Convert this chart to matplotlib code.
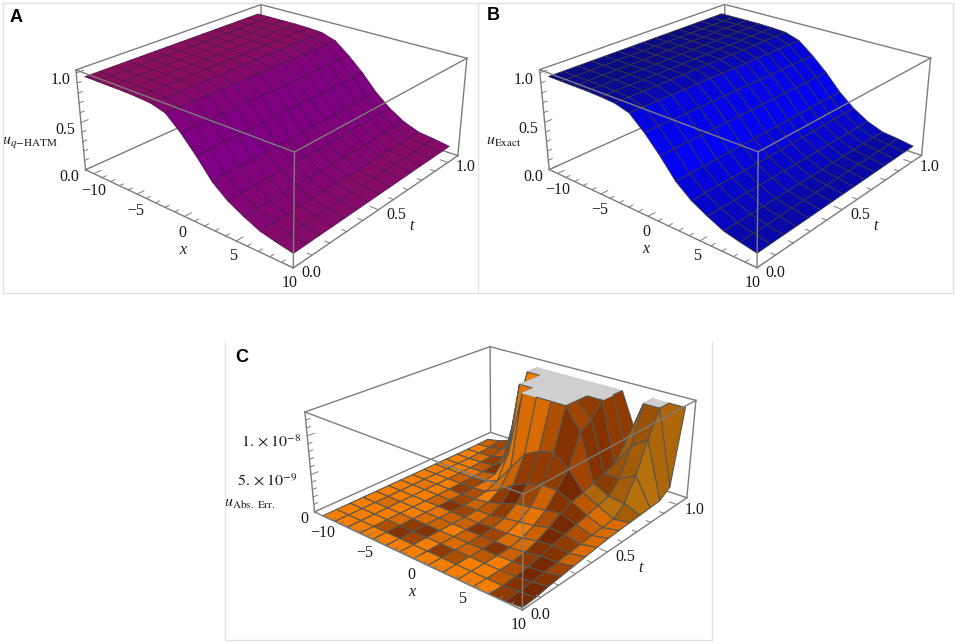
import numpy as np
import matplotlib
matplotlib.use("Agg")
import matplotlib.pyplot as plt
from matplotlib.colors import to_rgb
from matplotlib.lines import Line2D
from mpl_toolkits.mplot3d import proj3d

plt.rcParams["font.family"] = ["Liberation Serif", "DejaVu Serif"]
plt.rcParams["mathtext.fontset"] = "stix"

W, H = 957, 644
AX_PX = 476.56  # the square that mplot3d fits the box into

x_nodes = [-10, -8.57, -7.14, -5.71, -4.29, -2.86, -1.43, 0, 1.43, 2.86, 4.29, 5.71, 7.14, 8.57, 10]
t_nodes = [0, .071, .143, .214, .286, .357, .429, .5, .571, .643, .714, .786, .857, .929, 1]

# rows are t_nodes, columns are x_nodes
u_exact = [
    [.995, .995, .995, .995, .99, .98, .94, .81, .65, .47, .35, .27, .2, .165, .136],
    [.995, .995, .995, .995, .99, .98, .939, .81, .651, .472, .352, .271, .201, .167, .139],
    [.995, .995, .995, .995, .99, .98, .939, .81, .653, .475, .354, .271, .203, .17, .142],
    [.995, .995, .995, .995, .99, .98, .938, .81, .654, .477, .355, .272, .204, .172, .144],
    [.995, .995, .995, .995, .99, .98, .937, .81, .656, .48, .357, .273, .206, .175, .147],
    [.995, .995, .995, .995, .99, .98, .936, .81, .657, .482, .359, .274, .207, .178, .15],
    [.995, .995, .995, .995, .99, .98, .936, .81, .659, .485, .361, .274, .209, .18, .153],
    [.995, .995, .995, .995, .99, .98, .935, .81, .66, .488, .363, .275, .21, .183, .156],
    [.995, .995, .995, .995, .99, .98, .934, .81, .661, .49, .364, .276, .211, .185, .158],
    [.995, .995, .995, .995, .99, .98, .934, .81, .663, .492, .366, .276, .213, .188, .161],
    [.995, .995, .995, .995, .99, .98, .933, .81, .664, .495, .368, .277, .214, .19, .164],
    [.995, .995, .995, .995, .99, .98, .932, .81, .666, .497, .37, .278, .216, .193, .167],
    [.995, .995, .995, .995, .99, .98, .931, .81, .667, .5, .371, .279, .217, .195, .169],
    [.995, .995, .995, .995, .99, .98, .931, .81, .669, .502, .373, .279, .219, .198, .172],
    [.995, .995, .995, .995, .99, .98, .93, .81, .67, .505, .375, .28, .22, .2, .175],
]
u_hatm = u_exact  # the two surfaces cannot be told apart in the picture

# absolute error in units of 1e-9, clipped at the top of the box in the original
u_err = [
    [0, 0, 0, 0, 0, 0, 0, 0, 0, 0, 0, 0, 0, .1, .3],
    [0, 0, 0, 0, 0, 0, 0, 0, 0, 0, 0, 0, 0, .2, .4],
    [0, 0, 0, 0, 0, 0, 0, 0, 0, 0, 0, 0, .1, .3, .7],
    [0, 0, 0, 0, 0, 0, 0, 0, 0, 0, 0, .1, .3, .5, .9],
    [0, 0, 0, 0, 0, 0, 0, 0, 0, .05, .1, .3, .7, .7, 1.1],
    [0, 0, 0, 0, 0, 0, 0, 0, .1, .2, .4, .8, 1.1, .9, 1.3],
    [0, 0, 0, 0, 0, 0, .05, .2, .5, .8, 1.1, 1.6, 1.5, 1.1, 1.5],
    [0, 0, 0, 0, 0, .05, .3, .9, 1.6, 1.9, 2.2, 2.6, 1.9, 1.3, 1.7],
    [0, 0, 0, 0, .05, .3, 1.2, 2.6, 3.5, 4, 4, 3.2, 2.2, 1.4, 1.8],
    [0, 0, 0, .05, .2, 1, 3.5, 6, 7, 7.5, 6, 3.6, 2.6, 1.6, 1.9],
    [0, 0, .05, .1, .5, 4, 12.9, 14, 14, 14, 10, 4, 3, 2.8, 2],
    [0, 0, .1, .3, 1.5, 12.9, 14, 14, 14, 14, 11, 4.5, 4.5, 5.6, 2.1],
    [0, .1, .2, .8, 8, 14, 14, 14, 14, 14, 13.5, 5, 8, 9.5, 2.2],
    [.05, .2, .6, 2, 12.9, 14, 14, 14, 14, 14, 14, 7, 13, 14, 3.2],
    [.1, .5, 1.2, 4, 14, 14, 14, 14, 14, 14, 14, 8, 14, 14, 14],
]
err_cap = 12.8

# darkness of the brown blotches on panel C, one digit per mesh cell
err_blotches = [
    "00000000000079",
    "00058607500489",
    "00027822340598",
    "02002303583796",
    "00001338622883",
    "00038625203972",
    "01026347215952",
    "00075079638832",
    "00361237779422",
    "00130122586324",
    "00483172068742",
    "02750292078542",
    "05430283087453",
    "36220620287353",
]

x_major = [-10, -5, 0, 5, 10]
x_minor = [-9, -8, -7, -6, -4, -3, -2, -1, 1, 2, 3, 4, 6, 7, 8, 9]
t_major = [0.0, 0.5, 1.0]
t_minor = [.1, .2, .3, .4, .6, .7, .8, .9]
u_major = [0.0, 0.5, 1.0]
u_minor = [.1, .2, .3, .4, .6, .7, .8, .9]
u_labels = ["0.0", "0.5", "1.0"]
err_major = [0, 5, 10]
err_minor = [1, 2, 3, 4, 6, 7, 8, 9, 11, 12]
err_labels = ["0", r"$5.\times10^{-9}$", r"$1.\times10^{-8}$"]

BOX = "#7d7d7d"


def at(ax, x, t, z, text, dx, dy, ha="center", **kw):
    # label placed dx, dy pixels (y down) from a point of the 3d box
    px, py, _ = proj3d.proj_transform(x, t, z, ax.get_proj())
    ax.annotate(text, (px, py), xytext=(dx, -dy), textcoords="offset pixels", ha=ha, va="center",
                annotation_clip=False, fontsize=kw.pop("fontsize", 11.5), color="#1a1a1a", **kw)


def make_box(left, bottom, zmax, z_major, z_minor, z_labels, z_dx):
    ax = fig.add_axes([left / W, bottom / H, AX_PX / W, AX_PX / H], projection="3d", computed_zorder=False)
    ax.patch.set_visible(False)
    xlo, xhi, tlo, thi = -11, 10, 0, 1.08
    ax.set_xlim(xlo, xhi, view_margin=0)
    ax.set_ylim(tlo, thi, view_margin=0)
    ax.set_zlim(0, zmax, view_margin=0)
    ax.view_init(24.4, -49.7)
    ax.set_proj_type("persp", focal_length=0.355)
    ax.set_box_aspect((1, 1, 0.4), zoom=0.81)
    ax.set_axis_off()

    # back edges go under the surface, the others over it
    back = [((xlo, xlo), (thi, thi), (0, zmax)), ((xlo, xlo), (tlo, thi), (0, 0)), ((xlo, xhi), (thi, thi), (0, 0))]
    front = [((xlo, xhi), (tlo, tlo), (0, 0)), ((xhi, xhi), (tlo, thi), (0, 0)), ((xlo, xlo), (tlo, tlo), (0, zmax)),
             ((xhi, xhi), (tlo, tlo), (0, zmax)), ((xhi, xhi), (thi, thi), (0, zmax)),
             ((xlo, xhi), (tlo, tlo), (zmax, zmax)), ((xhi, xhi), (tlo, thi), (zmax, zmax)),
             ((xlo, xlo), (tlo, thi), (zmax, zmax)), ((xlo, xhi), (thi, thi), (zmax, zmax))]
    for e in back:
        ax.plot(*e, color=BOX, lw=1.0, zorder=1)
    for e in front:
        ax.plot(*e, color=BOX, lw=1.0, zorder=5)

    for v, size in [(x_major, 0.035), (x_minor, 0.02)]:
        for x in v:
            ax.plot([x, x], [0, size], [0, 0], color=BOX, lw=0.7, zorder=5)
    for v, size in [(t_major, 0.7), (t_minor, 0.4)]:
        for t in v:
            ax.plot([xhi, xhi - size], [t, t], [0, 0], color=BOX, lw=0.7, zorder=5)
    for v, size in [(z_major, 0.035), (z_minor, 0.02)]:
        for z in v:
            ax.plot([xlo, xlo], [0, size], [z, z], color=BOX, lw=0.7, zorder=5)

    for x in x_major:
        text = str(x).replace("-", "\u2212")
        at(ax, x, 0, 0, text, -2 - 0.2 * x, 16 - 0.1 * x)
    for t in t_major:
        at(ax, xhi, t, 0, f"{t:.1f}", 18, 5)
    at(ax, 0, 0, 0, "x", -2, 33, style="italic")
    at(ax, xhi, 0.5, 0, "t", 33, 16, style="italic")
    for z, text, dx in zip(z_major, z_labels, z_dx):
        at(ax, xlo, 0, z, text, dx, 7, ha="right")
    return ax


def smooth_colors(z, dark, bright):
    z = np.array(z)
    slope = np.clip(z[:-1, :-1] - z[:-1, 1:], 0, None)
    slope = (slope / slope.max())[..., None] ** 0.6
    d, b = np.array(to_rgb(dark)), np.array(to_rgb(bright))
    return np.concatenate([d + (b - d) * slope, np.ones(slope.shape)], axis=2)


def smooth_panel(left, bottom, z, dark, bright, mesh, lw, ylabel, ldx):
    ax = make_box(left, bottom, 1.03, u_major, u_minor, u_labels, [-6, -6, -6])
    X, T = np.meshgrid(x_nodes, t_nodes)
    surf = ax.plot_surface(X, T, np.array(z), facecolors=smooth_colors(z, dark, bright), rstride=1, cstride=1,
                           shade=False, linewidth=lw, zorder=3)
    surf.set_edgecolor(mesh)
    surf.set_linewidth(lw)
    at(ax, -11, 0, 0.5, ylabel, ldx, 19, ha="right", fontsize=11.5)
    return ax


def error_panel(left, bottom):
    ax = make_box(left, bottom, 13, err_major, err_minor, err_labels, [-6, -14, -6])
    X, T = np.meshgrid(x_nodes, t_nodes)
    Z = np.minimum(np.array(u_err, float), err_cap)
    shade = np.array([[int(c) for c in row] for row in err_blotches])[..., None] / 9.0
    base = np.tile(np.array(to_rgb("#f57e02")), shade.shape[:2] + (1,))
    base[9:, 11:] = to_rgb("#c8860f")  # the far wall is more golden
    brown = np.array(to_rgb("#762800"))
    colors = base + (brown - base) * shade
    colors = np.concatenate([colors, np.ones(shade.shape)], axis=2)
    capped = (Z[:-1, :-1] >= err_cap) & (Z[1:, :-1] >= err_cap) & (Z[:-1, 1:] >= err_cap) & (Z[1:, 1:] >= err_cap)
    colors[capped] = to_rgb("#cfcfcf") + (1.0,)
    surf = ax.plot_surface(X, T, Z, facecolors=colors, rstride=1, cstride=1, shade=False, zorder=3)
    edges = np.tile(np.array(to_rgb("#565650") + (1.0,)), (capped.size, 1))
    edges[capped.ravel()] = colors[capped]
    surf.set_edgecolor(edges)
    surf.set_linewidth(0.8)
    at(ax, -11, 0, 6.5, r"$u_{\mathrm{Abs.\ Err.}}$", -34, 40, ha="right", fontsize=11.5)
    return ax


fig = plt.figure(figsize=(W / 100, H / 100), dpi=100)

# frames around the panels, in pixels from the top left
frames = [[(3, 3), (478, 3), (478, 293), (3, 293), (3, 3)],
          [(478, 3), (953, 3), (953, 293), (478, 293)],
          [(225, 342), (225, 640), (712, 640), (712, 342)]]
for f in frames:
    xs, ys = zip(*f)
    fig.add_artist(Line2D(np.array(xs) / W, 1 - np.array(ys) / H, color="#e2e2e2", lw=1.0))

smooth_panel(29.8, 284.8, u_hatm, "#88105a", "#7e0084", "#4d1050", 0.5, r"$u_{q\mathrm{-HATM}}$", -23)
smooth_panel(493.5, 285.0, u_exact, "#0a0a84", "#0404f2", "#33334a", 0.6, r"$u_{\mathrm{Exact}}$", -23)
error_panel(258.8, -57.3)

for letter, px, py in [("A", 16, 17), ("B", 493, 16), ("C", 242, 357)]:
    fig.text(px / W, 1 - py / H, letter, family="Liberation Sans", weight="bold", fontsize=13, ha="center", va="center")

fig.savefig("out.png", dpi=100)
